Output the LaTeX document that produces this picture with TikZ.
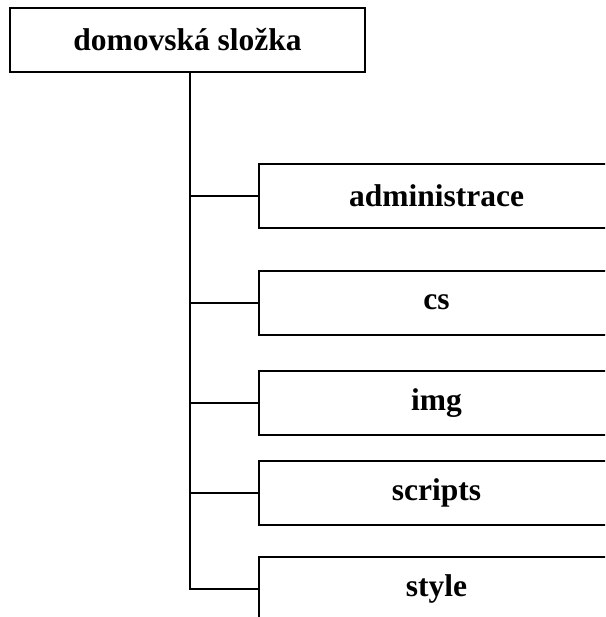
\documentclass[tikz,border=0pt]{standalone}
\usepackage{fontspec}
\setmainfont{Liberation Serif}
\begin{document}
\begin{tikzpicture}[x=1pt,y=-1pt,
  box/.style={draw, line width=2pt, rectangle, minimum width=355pt, minimum height=64pt, inner sep=0pt, font=\fontsize{31.5}{36}\selectfont\bfseries},
  conn/.style={line width=2pt}]
\useasboundingbox (0,0) rectangle (605,617);
\clip (0,0) rectangle (605,617);
\node[box] (root) at (187.5,40) {domovská složka};
\node[box] (adm) at (436.5,196) {administrace};
\node[box] (cs) at (436.5,302.5) {cs};
\node[box] (img) at (436.5,403) {img};
\node[box] (scr) at (436.5,493) {scripts};
\node[box] (sty) at (436.5,589) {style};
\coordinate (trunk) at ([xshift=2.5pt]root.south);
\draw[conn] (trunk) |- (sty.west);
\draw[conn] (trunk |- adm.west) -- (adm.west);
\draw[conn] (trunk |- cs.west) -- (cs.west);
\draw[conn] (trunk |- img.west) -- (img.west);
\draw[conn] (trunk |- scr.west) -- (scr.west);
\end{tikzpicture}
\end{document}
